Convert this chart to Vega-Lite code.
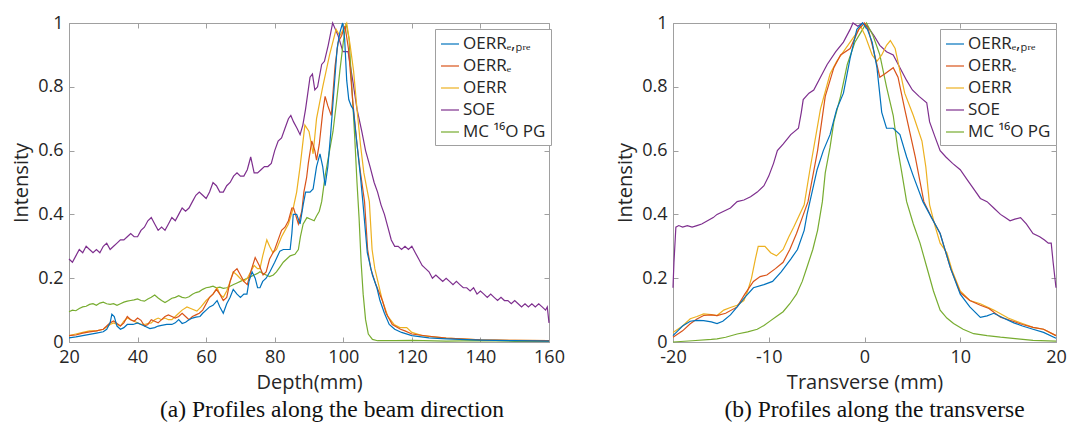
{
"$schema": "https://vega.github.io/schema/vega-lite/v6.json",
"padding": {"left": 11, "top": 13, "right": 5, "bottom": 0},
"spacing": 50,
"datasets": {
"depth": [
{"s":"SOE","x":20,"y":0.26},{"s":"SOE","x":21,"y":0.25},{"s":"SOE","x":22,"y":0.27},{"s":"SOE","x":23,"y":0.29},{"s":"SOE","x":24,"y":0.28},{"s":"SOE","x":25,"y":0.30},{"s":"SOE","x":26,"y":0.29},{"s":"SOE","x":27,"y":0.28},{"s":"SOE","x":28,"y":0.29},{"s":"SOE","x":29,"y":0.28},{"s":"SOE","x":30,"y":0.30},{"s":"SOE","x":31,"y":0.31},{"s":"SOE","x":32,"y":0.29},{"s":"SOE","x":33,"y":0.30},{"s":"SOE","x":34,"y":0.31},{"s":"SOE","x":35,"y":0.32},{"s":"SOE","x":36,"y":0.32},{"s":"SOE","x":37,"y":0.33},{"s":"SOE","x":38,"y":0.34},{"s":"SOE","x":39,"y":0.33},{"s":"SOE","x":40,"y":0.33},{"s":"SOE","x":41,"y":0.35},{"s":"SOE","x":42,"y":0.36},{"s":"SOE","x":43,"y":0.38},{"s":"SOE","x":44,"y":0.39},{"s":"SOE","x":45,"y":0.37},{"s":"SOE","x":46,"y":0.35},{"s":"SOE","x":47,"y":0.36},{"s":"SOE","x":48,"y":0.35},{"s":"SOE","x":49,"y":0.37},{"s":"SOE","x":50,"y":0.39},{"s":"SOE","x":51,"y":0.38},{"s":"SOE","x":52,"y":0.40},{"s":"SOE","x":53,"y":0.42},{"s":"SOE","x":54,"y":0.41},{"s":"SOE","x":55,"y":0.42},{"s":"SOE","x":56,"y":0.44},{"s":"SOE","x":57,"y":0.46},{"s":"SOE","x":58,"y":0.47},{"s":"SOE","x":59,"y":0.46},{"s":"SOE","x":60,"y":0.45},{"s":"SOE","x":61,"y":0.47},{"s":"SOE","x":62,"y":0.50},{"s":"SOE","x":63,"y":0.49},{"s":"SOE","x":64,"y":0.47},{"s":"SOE","x":65,"y":0.47},{"s":"SOE","x":66,"y":0.49},{"s":"SOE","x":67,"y":0.50},{"s":"SOE","x":68,"y":0.52},{"s":"SOE","x":69,"y":0.53},{"s":"SOE","x":70,"y":0.52},{"s":"SOE","x":71,"y":0.52},{"s":"SOE","x":72,"y":0.54},{"s":"SOE","x":73,"y":0.58},{"s":"SOE","x":74,"y":0.53},{"s":"SOE","x":75,"y":0.53},{"s":"SOE","x":76,"y":0.54},{"s":"SOE","x":77,"y":0.55},{"s":"SOE","x":78,"y":0.55},{"s":"SOE","x":79,"y":0.56},{"s":"SOE","x":80,"y":0.60},{"s":"SOE","x":81,"y":0.63},{"s":"SOE","x":82,"y":0.64},{"s":"SOE","x":83,"y":0.67},{"s":"SOE","x":84,"y":0.70},{"s":"SOE","x":84.7,"y":0.71},{"s":"SOE","x":85.5,"y":0.69},{"s":"SOE","x":86.5,"y":0.67},{"s":"SOE","x":87.4,"y":0.65},{"s":"SOE","x":88.2,"y":0.68},{"s":"SOE","x":89,"y":0.73},{"s":"SOE","x":90.3,"y":0.83},{"s":"SOE","x":91,"y":0.84},{"s":"SOE","x":91.7,"y":0.79},{"s":"SOE","x":92.5,"y":0.80},{"s":"SOE","x":93.7,"y":0.87},{"s":"SOE","x":94.5,"y":0.88},{"s":"SOE","x":95.6,"y":0.93},{"s":"SOE","x":96.9,"y":1.0},{"s":"SOE","x":97.7,"y":0.98},{"s":"SOE","x":98.5,"y":0.96},{"s":"SOE","x":99.9,"y":0.91},{"s":"SOE","x":101.4,"y":0.91},{"s":"SOE","x":102.9,"y":0.81},{"s":"SOE","x":104,"y":0.73},{"s":"SOE","x":105.4,"y":0.66},{"s":"SOE","x":106.5,"y":0.60},{"s":"SOE","x":107.8,"y":0.55},{"s":"SOE","x":109,"y":0.50},{"s":"SOE","x":110,"y":0.47},{"s":"SOE","x":111,"y":0.43},{"s":"SOE","x":112,"y":0.40},{"s":"SOE","x":113,"y":0.36},{"s":"SOE","x":114,"y":0.32},{"s":"SOE","x":115,"y":0.30},{"s":"SOE","x":116,"y":0.30},{"s":"SOE","x":117,"y":0.29},{"s":"SOE","x":118,"y":0.30},{"s":"SOE","x":119,"y":0.29},{"s":"SOE","x":120,"y":0.30},{"s":"SOE","x":121,"y":0.28},{"s":"SOE","x":122,"y":0.26},{"s":"SOE","x":123,"y":0.24},{"s":"SOE","x":124,"y":0.23},{"s":"SOE","x":125,"y":0.22},{"s":"SOE","x":126,"y":0.20},{"s":"SOE","x":127,"y":0.21},{"s":"SOE","x":128,"y":0.20},{"s":"SOE","x":129,"y":0.19},{"s":"SOE","x":130,"y":0.20},{"s":"SOE","x":131,"y":0.19},{"s":"SOE","x":132,"y":0.18},{"s":"SOE","x":133,"y":0.19},{"s":"SOE","x":134,"y":0.18},{"s":"SOE","x":135,"y":0.17},{"s":"SOE","x":136,"y":0.17},{"s":"SOE","x":137,"y":0.16},{"s":"SOE","x":138,"y":0.17},{"s":"SOE","x":139,"y":0.15},{"s":"SOE","x":140,"y":0.16},{"s":"SOE","x":141,"y":0.15},{"s":"SOE","x":142,"y":0.14},{"s":"SOE","x":143,"y":0.15},{"s":"SOE","x":144,"y":0.14},{"s":"SOE","x":145,"y":0.13},{"s":"SOE","x":146,"y":0.14},{"s":"SOE","x":147,"y":0.13},{"s":"SOE","x":148,"y":0.13},{"s":"SOE","x":149,"y":0.12},{"s":"SOE","x":150,"y":0.13},{"s":"SOE","x":151,"y":0.12},{"s":"SOE","x":152,"y":0.11},{"s":"SOE","x":153,"y":0.12},{"s":"SOE","x":154,"y":0.11},{"s":"SOE","x":155,"y":0.12},{"s":"SOE","x":156,"y":0.11},{"s":"SOE","x":157,"y":0.12},{"s":"SOE","x":158,"y":0.11},{"s":"SOE","x":159,"y":0.10},{"s":"SOE","x":159.5,"y":0.11},{"s":"SOE","x":160,"y":0.06},
{"s":"MC 16O PG","x":20,"y":0.095},{"s":"MC 16O PG","x":21,"y":0.10},{"s":"MC 16O PG","x":22,"y":0.098},{"s":"MC 16O PG","x":23,"y":0.105},{"s":"MC 16O PG","x":24,"y":0.11},{"s":"MC 16O PG","x":25,"y":0.112},{"s":"MC 16O PG","x":26,"y":0.118},{"s":"MC 16O PG","x":27,"y":0.12},{"s":"MC 16O PG","x":28,"y":0.115},{"s":"MC 16O PG","x":29,"y":0.122},{"s":"MC 16O PG","x":30,"y":0.125},{"s":"MC 16O PG","x":31,"y":0.12},{"s":"MC 16O PG","x":32,"y":0.118},{"s":"MC 16O PG","x":33,"y":0.12},{"s":"MC 16O PG","x":34,"y":0.115},{"s":"MC 16O PG","x":35,"y":0.12},{"s":"MC 16O PG","x":36,"y":0.125},{"s":"MC 16O PG","x":37,"y":0.128},{"s":"MC 16O PG","x":38,"y":0.13},{"s":"MC 16O PG","x":39,"y":0.132},{"s":"MC 16O PG","x":40,"y":0.135},{"s":"MC 16O PG","x":41,"y":0.13},{"s":"MC 16O PG","x":42,"y":0.128},{"s":"MC 16O PG","x":43,"y":0.135},{"s":"MC 16O PG","x":44,"y":0.14},{"s":"MC 16O PG","x":45,"y":0.147},{"s":"MC 16O PG","x":46,"y":0.138},{"s":"MC 16O PG","x":47,"y":0.13},{"s":"MC 16O PG","x":48,"y":0.124},{"s":"MC 16O PG","x":49,"y":0.13},{"s":"MC 16O PG","x":50,"y":0.137},{"s":"MC 16O PG","x":51,"y":0.14},{"s":"MC 16O PG","x":52,"y":0.145},{"s":"MC 16O PG","x":53,"y":0.14},{"s":"MC 16O PG","x":54,"y":0.138},{"s":"MC 16O PG","x":55,"y":0.142},{"s":"MC 16O PG","x":56,"y":0.15},{"s":"MC 16O PG","x":57,"y":0.155},{"s":"MC 16O PG","x":58,"y":0.158},{"s":"MC 16O PG","x":59,"y":0.165},{"s":"MC 16O PG","x":60,"y":0.17},{"s":"MC 16O PG","x":61,"y":0.172},{"s":"MC 16O PG","x":62,"y":0.175},{"s":"MC 16O PG","x":63,"y":0.17},{"s":"MC 16O PG","x":64,"y":0.172},{"s":"MC 16O PG","x":65,"y":0.168},{"s":"MC 16O PG","x":66,"y":0.17},{"s":"MC 16O PG","x":67,"y":0.175},{"s":"MC 16O PG","x":68,"y":0.18},{"s":"MC 16O PG","x":69,"y":0.185},{"s":"MC 16O PG","x":70,"y":0.19},{"s":"MC 16O PG","x":71,"y":0.195},{"s":"MC 16O PG","x":72,"y":0.20},{"s":"MC 16O PG","x":73,"y":0.205},{"s":"MC 16O PG","x":74,"y":0.21},{"s":"MC 16O PG","x":75,"y":0.215},{"s":"MC 16O PG","x":75.7,"y":0.22},{"s":"MC 16O PG","x":76.5,"y":0.215},{"s":"MC 16O PG","x":77.5,"y":0.21},{"s":"MC 16O PG","x":78.5,"y":0.205},{"s":"MC 16O PG","x":79.6,"y":0.21},{"s":"MC 16O PG","x":80.5,"y":0.22},{"s":"MC 16O PG","x":81.5,"y":0.235},{"s":"MC 16O PG","x":82.5,"y":0.25},{"s":"MC 16O PG","x":83.5,"y":0.26},{"s":"MC 16O PG","x":84.5,"y":0.27},{"s":"MC 16O PG","x":85.9,"y":0.275},{"s":"MC 16O PG","x":86.9,"y":0.29},{"s":"MC 16O PG","x":87.5,"y":0.33},{"s":"MC 16O PG","x":88.3,"y":0.37},{"s":"MC 16O PG","x":89.4,"y":0.39},{"s":"MC 16O PG","x":90.5,"y":0.385},{"s":"MC 16O PG","x":91.5,"y":0.38},{"s":"MC 16O PG","x":92.2,"y":0.395},{"s":"MC 16O PG","x":93,"y":0.41},{"s":"MC 16O PG","x":93.7,"y":0.44},{"s":"MC 16O PG","x":94.7,"y":0.52},{"s":"MC 16O PG","x":96,"y":0.60},{"s":"MC 16O PG","x":97,"y":0.66},{"s":"MC 16O PG","x":98,"y":0.75},{"s":"MC 16O PG","x":99,"y":0.85},{"s":"MC 16O PG","x":100,"y":0.94},{"s":"MC 16O PG","x":100.8,"y":1.0},{"s":"MC 16O PG","x":101.7,"y":0.95},{"s":"MC 16O PG","x":102.5,"y":0.80},{"s":"MC 16O PG","x":103.3,"y":0.65},{"s":"MC 16O PG","x":104,"y":0.50},{"s":"MC 16O PG","x":104.6,"y":0.39},{"s":"MC 16O PG","x":105.2,"y":0.25},{"s":"MC 16O PG","x":105.8,"y":0.15},{"s":"MC 16O PG","x":106.5,"y":0.07},{"s":"MC 16O PG","x":107.3,"y":0.025},{"s":"MC 16O PG","x":108.5,"y":0.008},{"s":"MC 16O PG","x":110,"y":0.004},{"s":"MC 16O PG","x":115,"y":0.004},{"s":"MC 16O PG","x":120,"y":0.005},{"s":"MC 16O PG","x":130,"y":0.003},{"s":"MC 16O PG","x":140,"y":0.004},{"s":"MC 16O PG","x":150,"y":0.002},{"s":"MC 16O PG","x":160,"y":0.002},
{"s":"OERR","x":20,"y":0.02},{"s":"OERR","x":22,"y":0.025},{"s":"OERR","x":24,"y":0.03},{"s":"OERR","x":26,"y":0.035},{"s":"OERR","x":28,"y":0.035},{"s":"OERR","x":30,"y":0.04},{"s":"OERR","x":32,"y":0.055},{"s":"OERR","x":33,"y":0.06},{"s":"OERR","x":34,"y":0.055},{"s":"OERR","x":35,"y":0.05},{"s":"OERR","x":36,"y":0.065},{"s":"OERR","x":37,"y":0.075},{"s":"OERR","x":38,"y":0.07},{"s":"OERR","x":39,"y":0.065},{"s":"OERR","x":40,"y":0.06},{"s":"OERR","x":41,"y":0.055},{"s":"OERR","x":42,"y":0.055},{"s":"OERR","x":43,"y":0.058},{"s":"OERR","x":44,"y":0.06},{"s":"OERR","x":45,"y":0.07},{"s":"OERR","x":46,"y":0.075},{"s":"OERR","x":47,"y":0.07},{"s":"OERR","x":48,"y":0.075},{"s":"OERR","x":49,"y":0.07},{"s":"OERR","x":50,"y":0.07},{"s":"OERR","x":51,"y":0.08},{"s":"OERR","x":52,"y":0.09},{"s":"OERR","x":53,"y":0.10},{"s":"OERR","x":54.4,"y":0.11},{"s":"OERR","x":55.5,"y":0.105},{"s":"OERR","x":57.3,"y":0.097},{"s":"OERR","x":58.5,"y":0.11},{"s":"OERR","x":60,"y":0.13},{"s":"OERR","x":61,"y":0.14},{"s":"OERR","x":62,"y":0.15},{"s":"OERR","x":63.2,"y":0.17},{"s":"OERR","x":64,"y":0.15},{"s":"OERR","x":65,"y":0.14},{"s":"OERR","x":66,"y":0.16},{"s":"OERR","x":67,"y":0.19},{"s":"OERR","x":67.9,"y":0.22},{"s":"OERR","x":69,"y":0.21},{"s":"OERR","x":69.9,"y":0.20},{"s":"OERR","x":71,"y":0.19},{"s":"OERR","x":72,"y":0.20},{"s":"OERR","x":73,"y":0.22},{"s":"OERR","x":74,"y":0.24},{"s":"OERR","x":75,"y":0.23},{"s":"OERR","x":75.7,"y":0.23},{"s":"OERR","x":76.5,"y":0.27},{"s":"OERR","x":77.7,"y":0.32},{"s":"OERR","x":78.5,"y":0.30},{"s":"OERR","x":79.5,"y":0.28},{"s":"OERR","x":80.5,"y":0.29},{"s":"OERR","x":82,"y":0.33},{"s":"OERR","x":83,"y":0.35},{"s":"OERR","x":84,"y":0.37},{"s":"OERR","x":85.4,"y":0.42},{"s":"OERR","x":86.4,"y":0.47},{"s":"OERR","x":87.4,"y":0.55},{"s":"OERR","x":88.8,"y":0.68},{"s":"OERR","x":90,"y":0.66},{"s":"OERR","x":91.2,"y":0.59},{"s":"OERR","x":92.2,"y":0.70},{"s":"OERR","x":94,"y":0.80},{"s":"OERR","x":96,"y":0.90},{"s":"OERR","x":97.9,"y":0.98},{"s":"OERR","x":99,"y":0.96},{"s":"OERR","x":100.5,"y":0.99},{"s":"OERR","x":101,"y":1.0},{"s":"OERR","x":102,"y":0.93},{"s":"OERR","x":103,"y":0.85},{"s":"OERR","x":104,"y":0.73},{"s":"OERR","x":105,"y":0.62},{"s":"OERR","x":106,"y":0.53},{"s":"OERR","x":107.6,"y":0.44},{"s":"OERR","x":108.4,"y":0.29},{"s":"OERR","x":109.2,"y":0.23},{"s":"OERR","x":110.3,"y":0.18},{"s":"OERR","x":111.4,"y":0.13},{"s":"OERR","x":113,"y":0.08},{"s":"OERR","x":114.8,"y":0.055},{"s":"OERR","x":116.5,"y":0.045},{"s":"OERR","x":118.5,"y":0.045},{"s":"OERR","x":120,"y":0.03},{"s":"OERR","x":123,"y":0.02},{"s":"OERR","x":130,"y":0.012},{"s":"OERR","x":140,"y":0.007},{"s":"OERR","x":150,"y":0.005},{"s":"OERR","x":160,"y":0.004},
{"s":"OERR_E","x":20,"y":0.02},{"s":"OERR_E","x":22,"y":0.022},{"s":"OERR_E","x":24,"y":0.028},{"s":"OERR_E","x":26,"y":0.032},{"s":"OERR_E","x":28,"y":0.035},{"s":"OERR_E","x":30,"y":0.04},{"s":"OERR_E","x":31,"y":0.05},{"s":"OERR_E","x":32,"y":0.06},{"s":"OERR_E","x":33,"y":0.066},{"s":"OERR_E","x":34,"y":0.058},{"s":"OERR_E","x":35,"y":0.05},{"s":"OERR_E","x":36,"y":0.06},{"s":"OERR_E","x":37,"y":0.08},{"s":"OERR_E","x":38,"y":0.07},{"s":"OERR_E","x":39,"y":0.065},{"s":"OERR_E","x":40,"y":0.075},{"s":"OERR_E","x":41,"y":0.068},{"s":"OERR_E","x":42,"y":0.05},{"s":"OERR_E","x":43,"y":0.055},{"s":"OERR_E","x":44,"y":0.07},{"s":"OERR_E","x":45,"y":0.065},{"s":"OERR_E","x":46,"y":0.06},{"s":"OERR_E","x":47,"y":0.07},{"s":"OERR_E","x":48,"y":0.08},{"s":"OERR_E","x":49,"y":0.085},{"s":"OERR_E","x":50,"y":0.08},{"s":"OERR_E","x":51,"y":0.075},{"s":"OERR_E","x":52,"y":0.08},{"s":"OERR_E","x":53,"y":0.09},{"s":"OERR_E","x":54,"y":0.08},{"s":"OERR_E","x":55,"y":0.07},{"s":"OERR_E","x":56,"y":0.08},{"s":"OERR_E","x":57,"y":0.085},{"s":"OERR_E","x":58,"y":0.09},{"s":"OERR_E","x":59,"y":0.10},{"s":"OERR_E","x":60,"y":0.12},{"s":"OERR_E","x":61,"y":0.14},{"s":"OERR_E","x":62,"y":0.15},{"s":"OERR_E","x":63,"y":0.165},{"s":"OERR_E","x":64,"y":0.15},{"s":"OERR_E","x":65,"y":0.13},{"s":"OERR_E","x":66,"y":0.14},{"s":"OERR_E","x":67,"y":0.19},{"s":"OERR_E","x":68,"y":0.22},{"s":"OERR_E","x":69,"y":0.23},{"s":"OERR_E","x":70,"y":0.21},{"s":"OERR_E","x":71,"y":0.19},{"s":"OERR_E","x":72,"y":0.18},{"s":"OERR_E","x":73,"y":0.22},{"s":"OERR_E","x":74.3,"y":0.265},{"s":"OERR_E","x":75.5,"y":0.24},{"s":"OERR_E","x":76.6,"y":0.21},{"s":"OERR_E","x":77.5,"y":0.22},{"s":"OERR_E","x":78.5,"y":0.26},{"s":"OERR_E","x":80,"y":0.29},{"s":"OERR_E","x":81,"y":0.32},{"s":"OERR_E","x":82,"y":0.35},{"s":"OERR_E","x":83,"y":0.36},{"s":"OERR_E","x":84,"y":0.38},{"s":"OERR_E","x":85,"y":0.42},{"s":"OERR_E","x":85.5,"y":0.42},{"s":"OERR_E","x":86.9,"y":0.37},{"s":"OERR_E","x":87.9,"y":0.41},{"s":"OERR_E","x":88.5,"y":0.47},{"s":"OERR_E","x":89.3,"y":0.515},{"s":"OERR_E","x":89.8,"y":0.56},{"s":"OERR_E","x":90.8,"y":0.63},{"s":"OERR_E","x":91.7,"y":0.60},{"s":"OERR_E","x":92.2,"y":0.57},{"s":"OERR_E","x":93,"y":0.62},{"s":"OERR_E","x":94,"y":0.72},{"s":"OERR_E","x":94.7,"y":0.77},{"s":"OERR_E","x":95.5,"y":0.74},{"s":"OERR_E","x":96.5,"y":0.71},{"s":"OERR_E","x":97.6,"y":0.865},{"s":"OERR_E","x":98.5,"y":0.94},{"s":"OERR_E","x":99.5,"y":0.96},{"s":"OERR_E","x":100.5,"y":0.99},{"s":"OERR_E","x":101.5,"y":0.92},{"s":"OERR_E","x":102.8,"y":0.75},{"s":"OERR_E","x":104,"y":0.62},{"s":"OERR_E","x":104.9,"y":0.54},{"s":"OERR_E","x":106.2,"y":0.44},{"s":"OERR_E","x":107.1,"y":0.29},{"s":"OERR_E","x":108,"y":0.23},{"s":"OERR_E","x":109.5,"y":0.18},{"s":"OERR_E","x":111.4,"y":0.13},{"s":"OERR_E","x":112.5,"y":0.09},{"s":"OERR_E","x":114.3,"y":0.055},{"s":"OERR_E","x":116.7,"y":0.04},{"s":"OERR_E","x":118,"y":0.035},{"s":"OERR_E","x":120,"y":0.025},{"s":"OERR_E","x":125,"y":0.018},{"s":"OERR_E","x":130,"y":0.012},{"s":"OERR_E","x":140,"y":0.007},{"s":"OERR_E","x":150,"y":0.005},{"s":"OERR_E","x":160,"y":0.004},
{"s":"OERR_E,Pre","x":20,"y":0.013},{"s":"OERR_E,Pre","x":22,"y":0.016},{"s":"OERR_E,Pre","x":24,"y":0.02},{"s":"OERR_E,Pre","x":26,"y":0.024},{"s":"OERR_E,Pre","x":28,"y":0.028},{"s":"OERR_E,Pre","x":30,"y":0.032},{"s":"OERR_E,Pre","x":31,"y":0.04},{"s":"OERR_E,Pre","x":32,"y":0.06},{"s":"OERR_E,Pre","x":32.5,"y":0.087},{"s":"OERR_E,Pre","x":33.2,"y":0.08},{"s":"OERR_E,Pre","x":34,"y":0.05},{"s":"OERR_E,Pre","x":35,"y":0.04},{"s":"OERR_E,Pre","x":36,"y":0.045},{"s":"OERR_E,Pre","x":37,"y":0.055},{"s":"OERR_E,Pre","x":38.7,"y":0.055},{"s":"OERR_E,Pre","x":40,"y":0.06},{"s":"OERR_E,Pre","x":41,"y":0.055},{"s":"OERR_E,Pre","x":42,"y":0.05},{"s":"OERR_E,Pre","x":43.6,"y":0.042},{"s":"OERR_E,Pre","x":45,"y":0.045},{"s":"OERR_E,Pre","x":46,"y":0.05},{"s":"OERR_E,Pre","x":47,"y":0.052},{"s":"OERR_E,Pre","x":48.5,"y":0.055},{"s":"OERR_E,Pre","x":50,"y":0.055},{"s":"OERR_E,Pre","x":51,"y":0.06},{"s":"OERR_E,Pre","x":52,"y":0.07},{"s":"OERR_E,Pre","x":53,"y":0.058},{"s":"OERR_E,Pre","x":54,"y":0.062},{"s":"OERR_E,Pre","x":55,"y":0.07},{"s":"OERR_E,Pre","x":56,"y":0.075},{"s":"OERR_E,Pre","x":57,"y":0.078},{"s":"OERR_E,Pre","x":58.2,"y":0.08},{"s":"OERR_E,Pre","x":59,"y":0.09},{"s":"OERR_E,Pre","x":60,"y":0.10},{"s":"OERR_E,Pre","x":61,"y":0.11},{"s":"OERR_E,Pre","x":62,"y":0.115},{"s":"OERR_E,Pre","x":63.2,"y":0.13},{"s":"OERR_E,Pre","x":64,"y":0.11},{"s":"OERR_E,Pre","x":65,"y":0.09},{"s":"OERR_E,Pre","x":66,"y":0.12},{"s":"OERR_E,Pre","x":67,"y":0.14},{"s":"OERR_E,Pre","x":67.9,"y":0.165},{"s":"OERR_E,Pre","x":69,"y":0.15},{"s":"OERR_E,Pre","x":70,"y":0.14},{"s":"OERR_E,Pre","x":71,"y":0.15},{"s":"OERR_E,Pre","x":71.9,"y":0.15},{"s":"OERR_E,Pre","x":72.5,"y":0.19},{"s":"OERR_E,Pre","x":73.4,"y":0.22},{"s":"OERR_E,Pre","x":74.3,"y":0.20},{"s":"OERR_E,Pre","x":75,"y":0.17},{"s":"OERR_E,Pre","x":75.7,"y":0.17},{"s":"OERR_E,Pre","x":76.5,"y":0.19},{"s":"OERR_E,Pre","x":77.5,"y":0.20},{"s":"OERR_E,Pre","x":78.6,"y":0.22},{"s":"OERR_E,Pre","x":80,"y":0.25},{"s":"OERR_E,Pre","x":81.5,"y":0.285},{"s":"OERR_E,Pre","x":82.5,"y":0.29},{"s":"OERR_E,Pre","x":83.5,"y":0.29},{"s":"OERR_E,Pre","x":84.5,"y":0.29},{"s":"OERR_E,Pre","x":85,"y":0.34},{"s":"OERR_E,Pre","x":85.4,"y":0.40},{"s":"OERR_E,Pre","x":86.4,"y":0.40},{"s":"OERR_E,Pre","x":87.4,"y":0.37},{"s":"OERR_E,Pre","x":88.3,"y":0.43},{"s":"OERR_E,Pre","x":89,"y":0.47},{"s":"OERR_E,Pre","x":90.3,"y":0.47},{"s":"OERR_E,Pre","x":91.2,"y":0.48},{"s":"OERR_E,Pre","x":92.2,"y":0.55},{"s":"OERR_E,Pre","x":93.2,"y":0.59},{"s":"OERR_E,Pre","x":94,"y":0.55},{"s":"OERR_E,Pre","x":94.7,"y":0.49},{"s":"OERR_E,Pre","x":95.5,"y":0.55},{"s":"OERR_E,Pre","x":96.3,"y":0.65},{"s":"OERR_E,Pre","x":97,"y":0.75},{"s":"OERR_E,Pre","x":98.2,"y":0.92},{"s":"OERR_E,Pre","x":99,"y":0.97},{"s":"OERR_E,Pre","x":99.8,"y":1.0},{"s":"OERR_E,Pre","x":100.4,"y":0.95},{"s":"OERR_E,Pre","x":101,"y":0.82},{"s":"OERR_E,Pre","x":101.6,"y":0.76},{"s":"OERR_E,Pre","x":102.3,"y":0.74},{"s":"OERR_E,Pre","x":102.9,"y":0.73},{"s":"OERR_E,Pre","x":104,"y":0.62},{"s":"OERR_E,Pre","x":105,"y":0.52},{"s":"OERR_E,Pre","x":105.7,"y":0.44},{"s":"OERR_E,Pre","x":107,"y":0.28},{"s":"OERR_E,Pre","x":108.5,"y":0.21},{"s":"OERR_E,Pre","x":109.8,"y":0.17},{"s":"OERR_E,Pre","x":110.7,"y":0.13},{"s":"OERR_E,Pre","x":112,"y":0.09},{"s":"OERR_E,Pre","x":113.4,"y":0.055},{"s":"OERR_E,Pre","x":115,"y":0.04},{"s":"OERR_E,Pre","x":117,"y":0.03},{"s":"OERR_E,Pre","x":120,"y":0.02},{"s":"OERR_E,Pre","x":125,"y":0.013},{"s":"OERR_E,Pre","x":130,"y":0.01},{"s":"OERR_E,Pre","x":140,"y":0.006},{"s":"OERR_E,Pre","x":150,"y":0.004},{"s":"OERR_E,Pre","x":160,"y":0.003}
],
"trans": [
{"s":"SOE","x":-20,"y":0.17},{"s":"SOE","x":-19.9,"y":0.25},{"s":"SOE","x":-19.7,"y":0.36},{"s":"SOE","x":-19.4,"y":0.365},{"s":"SOE","x":-19,"y":0.36},{"s":"SOE","x":-18.5,"y":0.365},{"s":"SOE","x":-18,"y":0.36},{"s":"SOE","x":-17.5,"y":0.365},{"s":"SOE","x":-17,"y":0.37},{"s":"SOE","x":-16.4,"y":0.38},{"s":"SOE","x":-15.8,"y":0.39},{"s":"SOE","x":-15.4,"y":0.40},{"s":"SOE","x":-14.7,"y":0.41},{"s":"SOE","x":-14,"y":0.42},{"s":"SOE","x":-13.3,"y":0.44},{"s":"SOE","x":-12.6,"y":0.445},{"s":"SOE","x":-11.9,"y":0.455},{"s":"SOE","x":-11.2,"y":0.47},{"s":"SOE","x":-10.5,"y":0.49},{"s":"SOE","x":-10,"y":0.52},{"s":"SOE","x":-9.5,"y":0.56},{"s":"SOE","x":-9.1,"y":0.60},{"s":"SOE","x":-8.5,"y":0.62},{"s":"SOE","x":-7.7,"y":0.65},{"s":"SOE","x":-6.9,"y":0.67},{"s":"SOE","x":-6.6,"y":0.72},{"s":"SOE","x":-6.4,"y":0.76},{"s":"SOE","x":-5.8,"y":0.78},{"s":"SOE","x":-5.3,"y":0.79},{"s":"SOE","x":-4.6,"y":0.83},{"s":"SOE","x":-3.9,"y":0.87},{"s":"SOE","x":-3.0,"y":0.91},{"s":"SOE","x":-2.2,"y":0.94},{"s":"SOE","x":-1.5,"y":0.98},{"s":"SOE","x":-1.2,"y":1.0},{"s":"SOE","x":-0.7,"y":0.99},{"s":"SOE","x":-0.2,"y":1.0},{"s":"SOE","x":0.3,"y":0.99},{"s":"SOE","x":1,"y":0.96},{"s":"SOE","x":1.6,"y":0.93},{"s":"SOE","x":2.3,"y":0.91},{"s":"SOE","x":3.0,"y":0.90},{"s":"SOE","x":3.7,"y":0.86},{"s":"SOE","x":4.4,"y":0.82},{"s":"SOE","x":5.0,"y":0.79},{"s":"SOE","x":5.7,"y":0.77},{"s":"SOE","x":6.5,"y":0.75},{"s":"SOE","x":6.8,"y":0.69},{"s":"SOE","x":7.4,"y":0.64},{"s":"SOE","x":7.9,"y":0.60},{"s":"SOE","x":8.5,"y":0.58},{"s":"SOE","x":9.2,"y":0.56},{"s":"SOE","x":10,"y":0.54},{"s":"SOE","x":10.7,"y":0.51},{"s":"SOE","x":11.4,"y":0.48},{"s":"SOE","x":12.1,"y":0.45},{"s":"SOE","x":12.8,"y":0.44},{"s":"SOE","x":13.5,"y":0.42},{"s":"SOE","x":14.2,"y":0.40},{"s":"SOE","x":14.7,"y":0.39},{"s":"SOE","x":15.2,"y":0.38},{"s":"SOE","x":15.7,"y":0.385},{"s":"SOE","x":16.3,"y":0.39},{"s":"SOE","x":16.9,"y":0.37},{"s":"SOE","x":17.6,"y":0.34},{"s":"SOE","x":18.3,"y":0.33},{"s":"SOE","x":18.8,"y":0.32},{"s":"SOE","x":19.2,"y":0.31},{"s":"SOE","x":19.5,"y":0.31},{"s":"SOE","x":19.7,"y":0.25},{"s":"SOE","x":20,"y":0.17},
{"s":"MC 16O PG","x":-20,"y":0.0},{"s":"MC 16O PG","x":-18,"y":0.004},{"s":"MC 16O PG","x":-16,"y":0.008},{"s":"MC 16O PG","x":-15.4,"y":0.01},{"s":"MC 16O PG","x":-14.5,"y":0.015},{"s":"MC 16O PG","x":-13.3,"y":0.025},{"s":"MC 16O PG","x":-12.2,"y":0.032},{"s":"MC 16O PG","x":-11.2,"y":0.04},{"s":"MC 16O PG","x":-10.5,"y":0.052},{"s":"MC 16O PG","x":-9.8,"y":0.067},{"s":"MC 16O PG","x":-9.2,"y":0.08},{"s":"MC 16O PG","x":-8.5,"y":0.095},{"s":"MC 16O PG","x":-7.8,"y":0.12},{"s":"MC 16O PG","x":-7.1,"y":0.15},{"s":"MC 16O PG","x":-6.5,"y":0.19},{"s":"MC 16O PG","x":-6.0,"y":0.235},{"s":"MC 16O PG","x":-5.4,"y":0.29},{"s":"MC 16O PG","x":-4.9,"y":0.35},{"s":"MC 16O PG","x":-4.4,"y":0.44},{"s":"MC 16O PG","x":-4.1,"y":0.53},{"s":"MC 16O PG","x":-3.6,"y":0.61},{"s":"MC 16O PG","x":-3.2,"y":0.69},{"s":"MC 16O PG","x":-2.5,"y":0.77},{"s":"MC 16O PG","x":-1.8,"y":0.87},{"s":"MC 16O PG","x":-1.0,"y":0.94},{"s":"MC 16O PG","x":-0.4,"y":0.97},{"s":"MC 16O PG","x":0.2,"y":1.0},{"s":"MC 16O PG","x":0.9,"y":0.96},{"s":"MC 16O PG","x":1.6,"y":0.90},{"s":"MC 16O PG","x":2.3,"y":0.80},{"s":"MC 16O PG","x":3.0,"y":0.71},{"s":"MC 16O PG","x":3.5,"y":0.60},{"s":"MC 16O PG","x":3.9,"y":0.53},{"s":"MC 16O PG","x":4.4,"y":0.44},{"s":"MC 16O PG","x":5.1,"y":0.37},{"s":"MC 16O PG","x":5.8,"y":0.31},{"s":"MC 16O PG","x":6.5,"y":0.235},{"s":"MC 16O PG","x":7.2,"y":0.16},{"s":"MC 16O PG","x":7.9,"y":0.10},{"s":"MC 16O PG","x":8.6,"y":0.075},{"s":"MC 16O PG","x":9.3,"y":0.058},{"s":"MC 16O PG","x":10.3,"y":0.04},{"s":"MC 16O PG","x":11.4,"y":0.026},{"s":"MC 16O PG","x":12.8,"y":0.02},{"s":"MC 16O PG","x":14.2,"y":0.015},{"s":"MC 16O PG","x":16,"y":0.01},{"s":"MC 16O PG","x":17.6,"y":0.005},{"s":"MC 16O PG","x":20,"y":0.003},
{"s":"OERR","x":-20,"y":0.03},{"s":"OERR","x":-19,"y":0.05},{"s":"OERR","x":-18.2,"y":0.073},{"s":"OERR","x":-17.5,"y":0.08},{"s":"OERR","x":-16.8,"y":0.088},{"s":"OERR","x":-16,"y":0.086},{"s":"OERR","x":-15.4,"y":0.083},{"s":"OERR","x":-14.7,"y":0.1},{"s":"OERR","x":-14,"y":0.108},{"s":"OERR","x":-13.3,"y":0.115},{"s":"OERR","x":-12.6,"y":0.13},{"s":"OERR","x":-12.2,"y":0.16},{"s":"OERR","x":-11.8,"y":0.20},{"s":"OERR","x":-11.4,"y":0.26},{"s":"OERR","x":-11.1,"y":0.30},{"s":"OERR","x":-10.4,"y":0.30},{"s":"OERR","x":-9.8,"y":0.28},{"s":"OERR","x":-9.2,"y":0.27},{"s":"OERR","x":-8.5,"y":0.29},{"s":"OERR","x":-7.9,"y":0.33},{"s":"OERR","x":-7.4,"y":0.36},{"s":"OERR","x":-6.3,"y":0.43},{"s":"OERR","x":-5.7,"y":0.54},{"s":"OERR","x":-4.6,"y":0.73},{"s":"OERR","x":-3.6,"y":0.84},{"s":"OERR","x":-2.9,"y":0.88},{"s":"OERR","x":-1.5,"y":0.94},{"s":"OERR","x":-0.8,"y":0.97},{"s":"OERR","x":-0.4,"y":0.99},{"s":"OERR","x":0.07,"y":0.96},{"s":"OERR","x":0.8,"y":0.90},{"s":"OERR","x":1.3,"y":0.88},{"s":"OERR","x":1.8,"y":0.90},{"s":"OERR","x":2.3,"y":0.93},{"s":"OERR","x":2.7,"y":0.945},{"s":"OERR","x":3.2,"y":0.92},{"s":"OERR","x":4.2,"y":0.78},{"s":"OERR","x":5.1,"y":0.71},{"s":"OERR","x":6.0,"y":0.63},{"s":"OERR","x":6.4,"y":0.55},{"s":"OERR","x":6.8,"y":0.43},{"s":"OERR","x":7.4,"y":0.36},{"s":"OERR","x":7.9,"y":0.31},{"s":"OERR","x":8.6,"y":0.28},{"s":"OERR","x":9.2,"y":0.22},{"s":"OERR","x":10,"y":0.16},{"s":"OERR","x":11,"y":0.13},{"s":"OERR","x":12.1,"y":0.12},{"s":"OERR","x":13.5,"y":0.10},{"s":"OERR","x":15,"y":0.075},{"s":"OERR","x":16.5,"y":0.058},{"s":"OERR","x":17.6,"y":0.046},{"s":"OERR","x":18.7,"y":0.04},{"s":"OERR","x":20,"y":0.02},
{"s":"OERR_E","x":-20,"y":0.015},{"s":"OERR_E","x":-19,"y":0.035},{"s":"OERR_E","x":-18.2,"y":0.057},{"s":"OERR_E","x":-17.5,"y":0.072},{"s":"OERR_E","x":-16.8,"y":0.083},{"s":"OERR_E","x":-16,"y":0.085},{"s":"OERR_E","x":-15.4,"y":0.083},{"s":"OERR_E","x":-14.5,"y":0.09},{"s":"OERR_E","x":-13.3,"y":0.11},{"s":"OERR_E","x":-12.5,"y":0.15},{"s":"OERR_E","x":-11.6,"y":0.19},{"s":"OERR_E","x":-10.9,"y":0.205},{"s":"OERR_E","x":-10.2,"y":0.21},{"s":"OERR_E","x":-9.3,"y":0.23},{"s":"OERR_E","x":-8.5,"y":0.25},{"s":"OERR_E","x":-7.8,"y":0.29},{"s":"OERR_E","x":-7.1,"y":0.34},{"s":"OERR_E","x":-6.5,"y":0.39},{"s":"OERR_E","x":-5.9,"y":0.44},{"s":"OERR_E","x":-4.9,"y":0.60},{"s":"OERR_E","x":-4.1,"y":0.77},{"s":"OERR_E","x":-3.2,"y":0.86},{"s":"OERR_E","x":-2.5,"y":0.90},{"s":"OERR_E","x":-1.5,"y":0.92},{"s":"OERR_E","x":-0.6,"y":0.98},{"s":"OERR_E","x":0,"y":1.0},{"s":"OERR_E","x":0.4,"y":0.98},{"s":"OERR_E","x":0.9,"y":0.92},{"s":"OERR_E","x":1.6,"y":0.83},{"s":"OERR_E","x":2.1,"y":0.84},{"s":"OERR_E","x":3.0,"y":0.86},{"s":"OERR_E","x":3.5,"y":0.83},{"s":"OERR_E","x":4.2,"y":0.73},{"s":"OERR_E","x":5.3,"y":0.58},{"s":"OERR_E","x":6.2,"y":0.44},{"s":"OERR_E","x":7.0,"y":0.39},{"s":"OERR_E","x":7.9,"y":0.34},{"s":"OERR_E","x":9,"y":0.23},{"s":"OERR_E","x":10,"y":0.155},{"s":"OERR_E","x":11,"y":0.13},{"s":"OERR_E","x":12.1,"y":0.115},{"s":"OERR_E","x":13,"y":0.105},{"s":"OERR_E","x":14.2,"y":0.078},{"s":"OERR_E","x":15.5,"y":0.065},{"s":"OERR_E","x":16.5,"y":0.055},{"s":"OERR_E","x":17.6,"y":0.046},{"s":"OERR_E","x":18.7,"y":0.04},{"s":"OERR_E","x":20,"y":0.02},
{"s":"OERR_E,Pre","x":-20,"y":0.02},{"s":"OERR_E,Pre","x":-19.5,"y":0.035},{"s":"OERR_E,Pre","x":-19,"y":0.05},{"s":"OERR_E,Pre","x":-18.2,"y":0.065},{"s":"OERR_E,Pre","x":-17.5,"y":0.068},{"s":"OERR_E,Pre","x":-16.8,"y":0.067},{"s":"OERR_E,Pre","x":-16,"y":0.063},{"s":"OERR_E,Pre","x":-15.4,"y":0.058},{"s":"OERR_E,Pre","x":-14.8,"y":0.065},{"s":"OERR_E,Pre","x":-14,"y":0.085},{"s":"OERR_E,Pre","x":-13.3,"y":0.11},{"s":"OERR_E,Pre","x":-12.5,"y":0.14},{"s":"OERR_E,Pre","x":-11.6,"y":0.17},{"s":"OERR_E,Pre","x":-10.5,"y":0.18},{"s":"OERR_E,Pre","x":-9.6,"y":0.19},{"s":"OERR_E,Pre","x":-8.7,"y":0.22},{"s":"OERR_E,Pre","x":-7.7,"y":0.26},{"s":"OERR_E,Pre","x":-7.0,"y":0.29},{"s":"OERR_E,Pre","x":-6.3,"y":0.35},{"s":"OERR_E,Pre","x":-6.0,"y":0.40},{"s":"OERR_E,Pre","x":-5.7,"y":0.44},{"s":"OERR_E,Pre","x":-4.95,"y":0.54},{"s":"OERR_E,Pre","x":-4.3,"y":0.60},{"s":"OERR_E,Pre","x":-3.6,"y":0.65},{"s":"OERR_E,Pre","x":-2.9,"y":0.73},{"s":"OERR_E,Pre","x":-2.2,"y":0.78},{"s":"OERR_E,Pre","x":-1.5,"y":0.89},{"s":"OERR_E,Pre","x":-0.8,"y":0.98},{"s":"OERR_E,Pre","x":-0.2,"y":1.0},{"s":"OERR_E,Pre","x":0.3,"y":0.98},{"s":"OERR_E,Pre","x":0.8,"y":0.94},{"s":"OERR_E,Pre","x":1.3,"y":0.86},{"s":"OERR_E,Pre","x":1.8,"y":0.72},{"s":"OERR_E,Pre","x":2.3,"y":0.67},{"s":"OERR_E,Pre","x":3.0,"y":0.67},{"s":"OERR_E,Pre","x":3.7,"y":0.65},{"s":"OERR_E,Pre","x":4.4,"y":0.58},{"s":"OERR_E,Pre","x":5.1,"y":0.52},{"s":"OERR_E,Pre","x":6.1,"y":0.44},{"s":"OERR_E,Pre","x":7.0,"y":0.39},{"s":"OERR_E,Pre","x":7.9,"y":0.34},{"s":"OERR_E,Pre","x":9,"y":0.23},{"s":"OERR_E,Pre","x":10,"y":0.15},{"s":"OERR_E,Pre","x":11,"y":0.11},{"s":"OERR_E,Pre","x":12.1,"y":0.077},{"s":"OERR_E,Pre","x":12.8,"y":0.082},{"s":"OERR_E,Pre","x":13.5,"y":0.09},{"s":"OERR_E,Pre","x":14.5,"y":0.075},{"s":"OERR_E,Pre","x":15.6,"y":0.06},{"s":"OERR_E,Pre","x":16.5,"y":0.05},{"s":"OERR_E,Pre","x":17.6,"y":0.04},{"s":"OERR_E,Pre","x":18.7,"y":0.03},{"s":"OERR_E,Pre","x":20,"y":0.012}
]
},
"hconcat": [
{
"width": 480, "height": 319,
"data": {"name": "depth"},
"title": {"text": "(a) Profiles along the beam direction", "orient": "bottom", "anchor": "middle", "frame": "group", "dx": 23, "offset": 6, "font": "Liberation Serif", "fontSize": 23.5, "fontWeight": "normal", "color": "#111"},
"layer": [
{"mark": {"type": "point", "opacity": 0},
 "encoding": {
  "x": {"field": "x", "type": "quantitative", "scale": {"domain": [20, 160], "nice": false}, "axis": {"orient": "top", "labels": false, "title": null, "domain": false, "values": [20,40,60,80,100,120,140,160]}},
  "y": {"field": "y", "type": "quantitative", "scale": {"domain": [0, 1], "nice": false}, "axis": {"orient": "right", "labels": false, "title": null, "domain": false, "values": [0,0.2,0.4,0.6,0.8,1]}}
 }},
{"mark": {"type": "line", "strokeWidth": 1.2},
 "encoding": {
  "x": {"field": "x", "type": "quantitative", "scale": {"domain": [20, 160], "nice": false}, "axis": {"title": "Depth(mm)", "values": [20,40,60,80,100,120,140,160]}},
  "y": {"field": "y", "type": "quantitative", "scale": {"domain": [0, 1], "nice": false}, "axis": {"title": "Intensity", "values": [0,0.2,0.4,0.6,0.8,1], "format": "~g"}},
  "color": {"field": "s", "type": "nominal",
   "scale": {"domain": ["OERR_E,Pre", "OERR_E", "OERR", "SOE", "MC 16O PG"], "range": ["#0072BD", "#D95319", "#EDB120", "#7E2F8E", "#77AC30"]},
   "legend": {"orient": "none", "legendX": 366, "legendY": 6, "labelExpr": "datum.label == 'OERR_E,Pre' ? 'OERRₑ,ₚᵣₑ' : datum.label == 'OERR_E' ? 'OERRₑ' : datum.label == 'MC 16O PG' ? 'MC ¹⁶O PG' : datum.label"}}
 }}
],
"resolve": {"axis": {"x": "independent", "y": "independent"}}
},
{
"width": 383, "height": 319,
"data": {"name": "trans"},
"title": {"text": "(b) Profiles along the transverse", "orient": "bottom", "anchor": "middle", "frame": "group", "dx": 10, "offset": 6, "font": "Liberation Serif", "fontSize": 23.5, "fontWeight": "normal", "color": "#111"},
"layer": [
{"mark": {"type": "point", "opacity": 0},
 "encoding": {
  "x": {"field": "x", "type": "quantitative", "scale": {"domain": [-20, 20], "nice": false}, "axis": {"orient": "top", "labels": false, "title": null, "domain": false, "values": [-20,-10,0,10,20]}},
  "y": {"field": "y", "type": "quantitative", "scale": {"domain": [0, 1], "nice": false}, "axis": {"orient": "right", "labels": false, "title": null, "domain": false, "values": [0,0.2,0.4,0.6,0.8,1]}}
 }},
{"mark": {"type": "line", "strokeWidth": 1.2},
 "encoding": {
  "x": {"field": "x", "type": "quantitative", "scale": {"domain": [-20, 20], "nice": false}, "axis": {"title": "Transverse  (mm)", "values": [-20,-10,0,10,20], "labelExpr": "'' + datum.value"}},
  "y": {"field": "y", "type": "quantitative", "scale": {"domain": [0, 1], "nice": false}, "axis": {"title": "Intensity", "values": [0,0.2,0.4,0.6,0.8,1], "format": "~g"}},
  "color": {"field": "s", "type": "nominal",
   "scale": {"domain": ["OERR_E,Pre", "OERR_E", "OERR", "SOE", "MC 16O PG"], "range": ["#0072BD", "#D95319", "#EDB120", "#7E2F8E", "#77AC30"]},
   "legend": {"orient": "none", "legendX": 267, "legendY": 6, "labelExpr": "datum.label == 'OERR_E,Pre' ? 'OERRₑ,ₚᵣₑ' : datum.label == 'OERR_E' ? 'OERRₑ' : datum.label == 'MC 16O PG' ? 'MC ¹⁶O PG' : datum.label"}}
 }}
],
"resolve": {"axis": {"x": "independent", "y": "independent"}}
}
],
"resolve": {"scale": {"color": "independent"}, "legend": {"color": "independent"}},
"config": {
 "view": {"stroke": "#a0a0a0"},
 "axis": {"domainColor": "#a0a0a0", "tickColor": "#a0a0a0", "tickSize": -5, "labelPadding": 11, "labelFlush": false, "labelOverlap": false, "labelFont": "Open Sans", "labelFontSize": 18, "labelColor": "#262626", "titleFont": "Open Sans", "titleFontSize": 20, "titleFontWeight": "normal", "titleColor": "#262626", "titlePadding": 6, "grid": false},
 "legend": {"title": null, "strokeColor": "#a0a0a0", "fillColor": "white", "padding": 5, "symbolType": "stroke", "symbolSize": 324, "symbolStrokeWidth": 1.2, "labelFont": "Open Sans", "labelFontSize": 17, "labelColor": "#262626", "rowPadding": 4, "labelOffset": 3}
}
}
